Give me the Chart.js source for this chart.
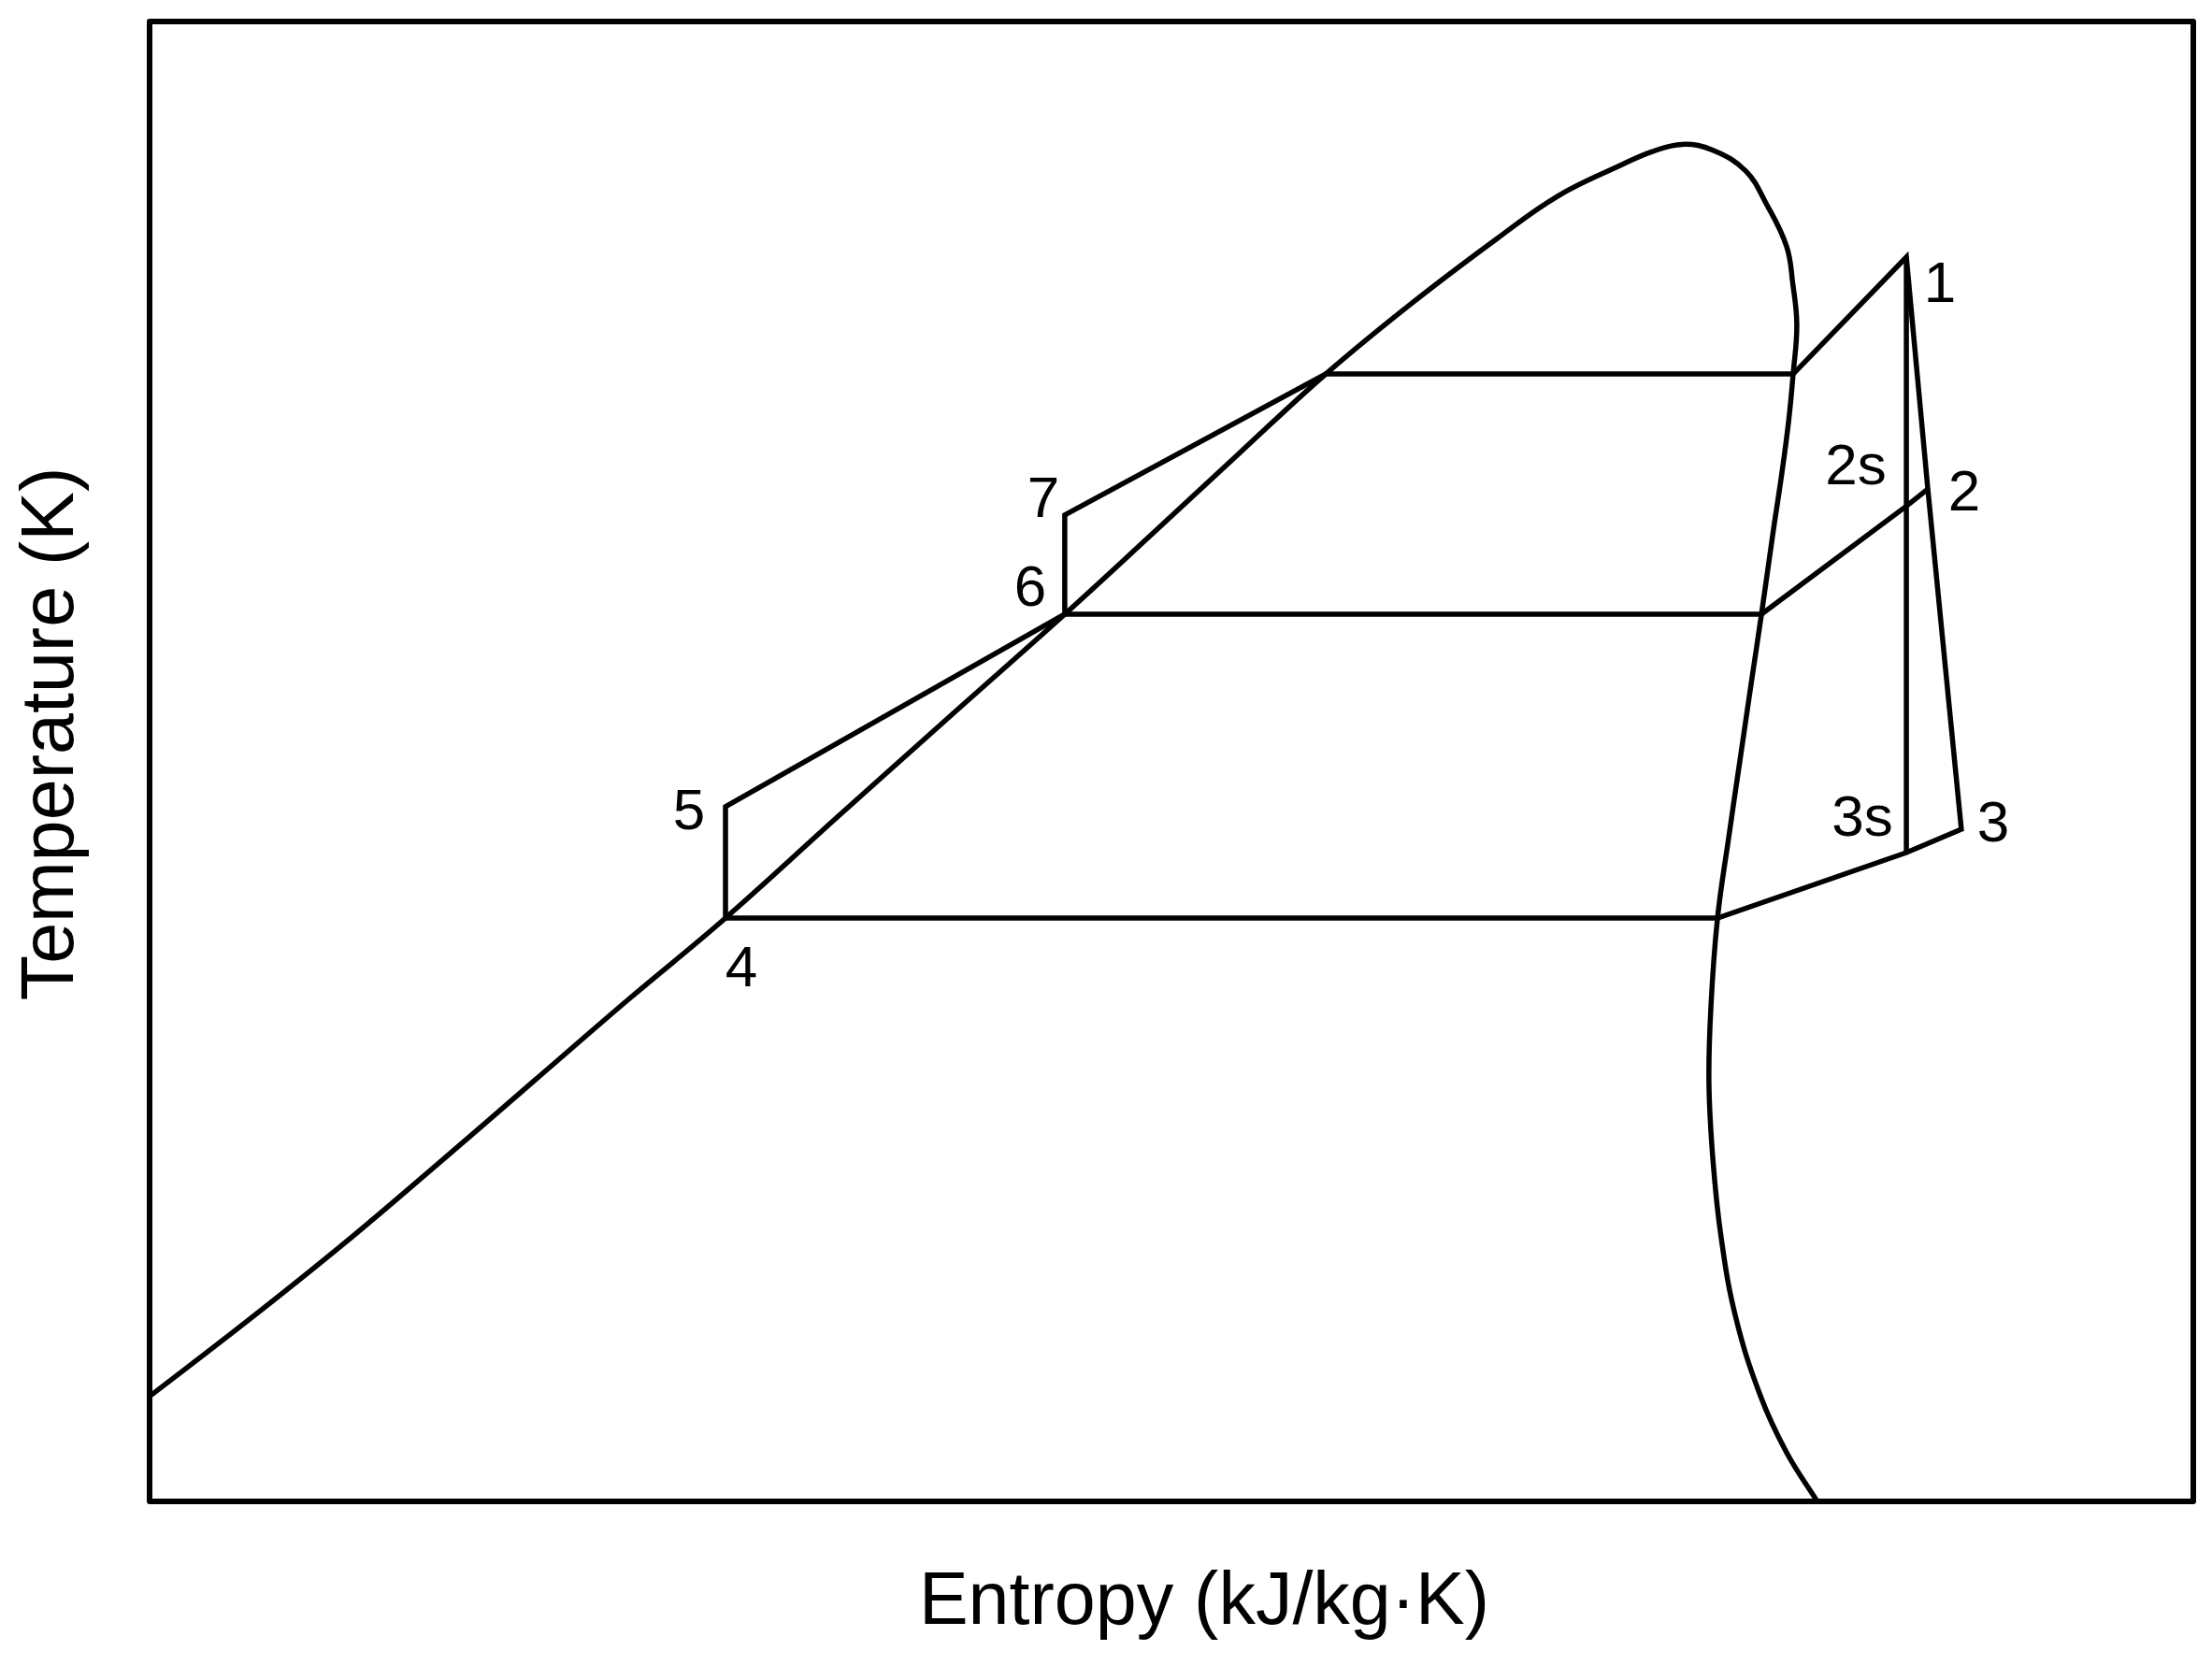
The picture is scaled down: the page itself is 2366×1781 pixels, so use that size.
<!DOCTYPE html>
<html><head><meta charset="utf-8">
<script src="https://cdn.jsdelivr.net/npm/chart.js@4/dist/chart.umd.min.js"></script>
<style>html,body{margin:0;padding:0;background:#fff;} canvas{display:block;}</style>
</head><body>
<canvas id="c" width="2366" height="1781"></canvas>
<script>
// Saturation dome (arbitrary units: entropy 0-100, temperature 0-100)
const satLiquidS = [0.0, 4.7, 9.4, 14.1, 18.8, 23.5, 28.18, 33.7, 39.2, 44.78, 49.0, 53.3, 57.55, 61.7, 65.9, 68.9, 72.0, 73.5, 75.0];
const satLiquidT = [7.1, 12.1, 17.3, 22.8, 28.4, 34.0, 39.42, 46.3, 53.1, 59.95, 65.3, 70.8, 76.18, 80.9, 85.3, 88.2, 90.3, 91.2, 91.7];
const satVaporS = [76.5, 78.1, 79.1, 80.1, 80.4, 80.6, 80.42, 80.2, 79.85, 79.45, 78.87, 78.37, 77.81, 77.26, 76.72, 76.4, 76.3, 76.5, 76.9, 77.6, 78.8, 80.1, 81.6];
const satVaporT = [91.3, 89.9, 87.7, 84.8, 82.3, 79.5, 76.18, 73.0, 69.3, 65.6, 59.95, 55.3, 50.0, 44.8, 39.42, 33.5, 28.3, 23.0, 17.8, 12.5, 7.2, 3.3, 0.0];

// Cycle state points
const stateNames = ['1', '2', '2s', '3', '3s', '4', '5', '6', '7', 'a', 'b', 'c', 'd'];
const stateS = [85.96, 87.01, 85.96, 88.65, 85.96, 28.18, 28.18, 44.78, 44.78, 57.55, 80.42, 78.87, 76.72];
const stateT = [84.08, 68.41, 67.25, 45.42, 43.84, 39.42, 46.94, 59.95, 66.65, 76.18, 76.18, 59.95, 39.42];

const cyclePath = ['4', '5', '6', '7', 'a', 'b', '1', '2', '3', '3s', 'd', '4'];
const midPressurePath = ['6', 'c', '2s', '2'];
const isentropePath = ['1', '2s', '3s'];
const labeledStates = ['1', '2', '2s', '3', '3s', '4', '5', '6', '7'];

const xTitle = 'Entropy (kJ/kg·K)';
const yTitle = 'Temperature (K)';

// label placement (pixel offsets from state point) — style, not data
const labelOffset = {
  '1': [36, 26], '2': [39, 1], '2s': [-54, -45], '3': [34, -9], '3s': [-47, -40],
  '4': [17, 51], '5': [-39, 2], '6': [-37, -31], '7': [-23, -20]
};

const zip = (xs, ys) => xs.map((v, i) => ({ x: v, y: ys[i] }));
const path = (names) => names.map(n => { const i = stateNames.indexOf(n); return { x: stateS[i], y: stateT[i] }; });

const domeData = zip(satLiquidS, satLiquidT).concat(zip(satVaporS, satVaporT));

const lineStyle = { showLine: true, pointRadius: 0, borderColor: '#000', borderWidth: 5.5, fill: false, borderJoinStyle: 'miter', borderCapStyle: 'butt' };

const FONT = '"Liberation Sans", Arial, Helvetica, sans-serif';

const annot = {
  id: 'annot',
  afterDraw(chart) {
    const { ctx, chartArea: a, scales: { x, y } } = chart;
    ctx.save();
    ctx.strokeStyle = '#000';
    ctx.lineWidth = 6;
    ctx.lineJoin = 'round';
    ctx.strokeRect(a.left, a.top, a.right - a.left, a.bottom - a.top);
    ctx.fillStyle = '#000';
    ctx.textAlign = 'center';
    ctx.textBaseline = 'alphabetic';
    ctx.font = '62px ' + FONT;
    labeledStates.forEach(n => {
      const i = stateNames.indexOf(n);
      const px = x.getPixelForValue(stateS[i]);
      const py = y.getPixelForValue(stateT[i]);
      const o = labelOffset[n];
      ctx.fillText(n, px + o[0], py + o[1] + 22);
    });
    ctx.font = '79px ' + FONT;
    ctx.fillText(xTitle, 1288, 1737);
    ctx.translate(78, 785);
    ctx.rotate(-Math.PI / 2);
    ctx.fillText(yTitle, 0, 0);
    ctx.restore();
  }
};

new Chart(document.getElementById('c'), {
  type: 'scatter',
  data: {
    datasets: [
      Object.assign({ label: 'Saturation dome', data: domeData, tension: 0.4 }, lineStyle),
      Object.assign({ label: 'Cycle', data: path(cyclePath), tension: 0 }, lineStyle),
      Object.assign({ label: 'Intermediate pressure', data: path(midPressurePath), tension: 0 }, lineStyle),
      Object.assign({ label: 'Isentropic expansion', data: path(isentropePath), tension: 0 }, lineStyle)
    ]
  },
  options: {
    responsive: false,
    animation: false,
    devicePixelRatio: 1,
    layout: { padding: { left: 160, top: 23, right: 20, bottom: 175 } },
    scales: {
      x: { type: 'linear', min: 0, max: 100, display: false },
      y: { type: 'linear', min: 0, max: 100, display: false }
    },
    plugins: { legend: { display: false }, tooltip: { enabled: false } }
  },
  plugins: [annot]
});
</script>
</body></html>
